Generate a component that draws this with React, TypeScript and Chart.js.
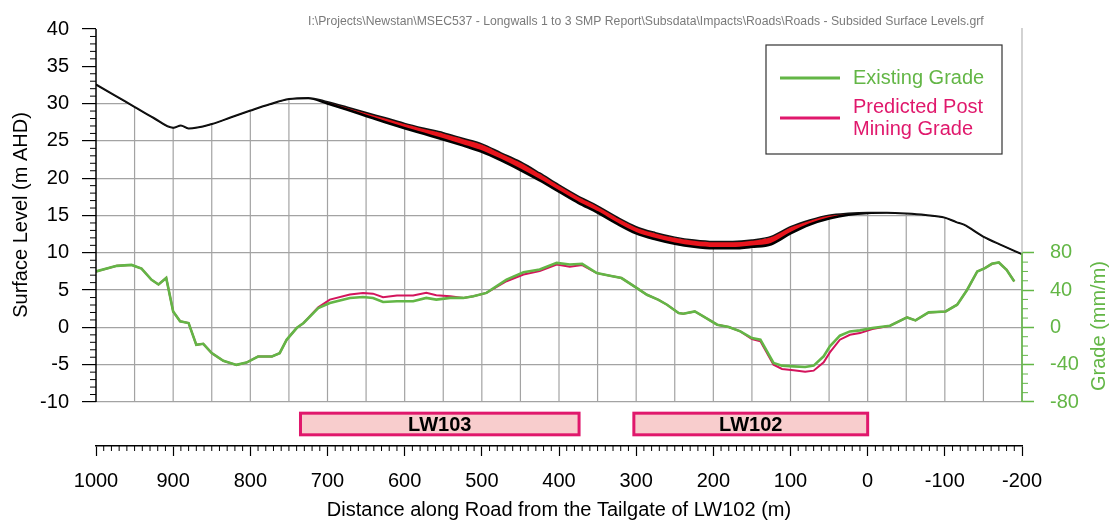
import React, { useEffect, useRef } from 'react';
import { Chart, registerables } from 'chart.js';

Chart.register(...registerables);

const FONT = '"Liberation Sans", Arial, Helvetica, sans-serif';
const GREEN = '#63b646';
const PINK = '#e0186c';
const PINK_LINE = '#d3145c';
const RED_FILL = '#e8141c';
const GRID = '#a3a3a3';

const HEADER_TEXT =
  'I:\\Projects\\Newstan\\MSEC537 - Longwalls 1 to 3 SMP Report\\Subsdata\\Impacts\\Roads\\Roads - Subsided Surface Levels.grf';

// Surface levels (m AHD) along the road
const SURFACE_DIST = [
  1000, 975, 950, 925, 900, 890, 880, 850, 825, 800, 775, 750, 725, 700, 675, 650, 625, 600, 575, 550,
  525, 500, 475, 450, 425, 400, 375, 350, 325, 300, 275, 250, 225, 200, 175, 150, 125, 100, 75, 50,
  25, 0, -25, -50, -75, -100, -115, -125, -150, -175, -200,
];
const EXISTING_SURFACE = [
  32.6, 31.1, 29.6, 28.1, 26.8, 27.1, 26.7, 27.3, 28.2, 29.1, 29.95, 30.65, 30.8, 30.25, 29.55, 28.8, 28.1, 27.35, 26.7, 26.1,
  25.35, 24.6, 23.4, 22.2, 20.7, 19.1, 17.6, 16.3, 14.8, 13.5, 12.7, 12.1, 11.7, 11.5, 11.5, 11.7, 12.2, 13.5, 14.4, 15.05,
  15.3, 15.4, 15.4, 15.3, 15.1, 14.75, 14.15, 13.8, 12.2, 11.0, 9.85,
];
const SUBSIDED_SURFACE = [
  32.6, 31.1, 29.6, 28.1, 26.8, 27.1, 26.7, 27.3, 28.2, 29.1, 29.95, 30.65, 30.75, 30.0, 29.2, 28.35, 27.5, 26.7, 25.95, 25.2,
  24.4, 23.55, 22.4, 21.1, 19.7, 18.2, 16.7, 15.4, 13.9, 12.6, 11.8, 11.2, 10.8, 10.6, 10.6, 10.8, 11.15, 12.6, 13.8, 14.6,
  15.1, 15.35, 15.4, 15.3, 15.1, 14.75, 14.15, 13.8, 12.2, 11.0, 9.85,
];

// Grades (mm/m) along the road
const GRADE_DIST = [
  1000, 973, 954, 941, 928, 919, 909, 900, 891, 880, 870, 861, 850, 835, 818, 805, 790, 772, 762, 753,
  740, 731, 712, 697, 671, 654, 641, 628, 610, 589, 572, 559, 541, 524, 511, 494, 468, 446, 425, 403,
  386, 370, 351, 334, 319, 299, 286, 271, 260, 245, 239, 224, 213, 195, 180, 165, 150, 139, 122, 111,
  96, 81, 70, 57, 49, 36, 23, 10, -6, -29, -51, -62, -79, -101, -116, -129, -142, -152, -161, -170,
  -180, -190,
];
const EXISTING_GRADE = [
  60, 66, 67, 63, 51, 46, 53, 17, 6.5, 4.7, -18.7, -17.6, -27.6, -35.9, -40.2, -37.7, -31.2, -31.2, -27.6, -13.3,
  -0.7, 4.7, 20.8, 26.2, 31.6, 32.6, 31.6, 27.3, 28, 28, 31.6, 29.8, 31.6, 31.6, 33.4, 37, 51.3, 59.2, 62, 69.2,
  67.4, 68.2, 58.2, 55.4, 52.9, 42.1, 35, 29.6, 24.3, 15.4, 14.6, 17.1, 11.8, 2.9, 0.4, -4.3, -11.4, -13.2, -38.2, -41,
  -41.8, -42.5, -41, -31, -20.4, -8.9, -4.3, -3.2, -0.7, 1.8, 10.7, 7.5, 16.1, 17.1, 24.3, 40.4, 60, 63.6, 68.2, 69.6,
  61.8, 49.3,
];
const PREDICTED_GRADE = [
  60, 66, 67, 63, 51, 46, 53, 17, 6.5, 4.7, -18.7, -17.6, -27.6, -35.9, -40.2, -37.7, -31.2, -31.2, -27.6, -13.3,
  -0.7, 4.7, 21.5, 29.8, 35.2, 37, 36.2, 32.3, 34.1, 34.1, 37, 34.4, 33.4, 31.6, 33.4, 37, 49.5, 56.7, 60.3, 67.4,
  65, 66.8, 58.2, 55.4, 52.9, 42.1, 35, 29.6, 24.3, 15.4, 14.6, 17.1, 11.8, 2.9, 0.4, -4.3, -12.5, -15, -40, -44.6,
  -46, -47.5, -46.4, -37.5, -26.8, -13.2, -7.9, -6.1, -1.8, 1.8, 10.7, 7.5, 16.1, 17.1, 24.3, 40.4, 60, 63.6, 68.2, 69.6,
  61.8, 49.3,
];

// Axis ticks
const X_TICKS = [1000, 900, 800, 700, 600, 500, 400, 300, 200, 100, 0, -100, -200];
const LEVEL_TICKS = [-10, -5, 0, 5, 10, 15, 20, 25, 30, 35, 40];
const GRADE_TICKS = [-80, -40, 0, 40, 80];

// Longwall panels
const PANEL_NAMES = ['LW103', 'LW102'];
const PANEL_START = [735, 303];
const PANEL_END = [374, 0];

const LEGEND_LABELS = ['Existing Grade', 'Predicted Post', 'Mining Grade'];

export default function App() {
  const ref = useRef<HTMLCanvasElement>(null);

  useEffect(() => {
    document.body.style.margin = '0';
    const canvas = ref.current as HTMLCanvasElement;
    const toXY = (xs: number[], ys: number[]) => xs.map((x, i) => ({ x, y: ys[i] }));

    const line = (ctx: CanvasRenderingContext2D, x1: number, y1: number, x2: number, y2: number) => {
      ctx.beginPath();
      ctx.moveTo(x1, y1);
      ctx.lineTo(x2, y2);
      ctx.stroke();
    };

    const decor = {
      id: 'decor',
      beforeDatasetsDraw(chart: any) {
        const { ctx, scales } = chart;
        const xs = scales.x;
        const ys = scales.y;
        const top = ys.getPixelForValue(40);
        const bot = ys.getPixelForValue(-10);
        ctx.save();
        ctx.strokeStyle = GRID;
        ctx.lineWidth = 1.2;
        for (let d = -150; d < 1000; d += 50) {
          const px = xs.getPixelForValue(d);
          line(ctx, px, top, px, bot);
        }
        ctx.restore();
      },
      afterDatasetsDraw(chart: any) {
        const { ctx, scales } = chart;
        const xs = scales.x;
        const ys = scales.y;
        const g = scales.y2;
        const left = xs.getPixelForValue(1000);
        const right = xs.getPixelForValue(-200);
        const top = ys.getPixelForValue(40);
        const bot = ys.getPixelForValue(-10);
        ctx.save();
        // right axis line (gray full, green on grade range)
        ctx.strokeStyle = '#b5b5b5';
        ctx.lineWidth = 1.2;
        line(ctx, right, top - 1, right, bot);
        ctx.strokeStyle = GREEN;
        ctx.lineWidth = 1.6;
        line(ctx, right, g.getPixelForValue(80), right, g.getPixelForValue(-80));
        // left axis line
        ctx.strokeStyle = '#000';
        ctx.lineWidth = 1.5;
        line(ctx, left, top, left, bot);
        // minor ticks left
        ctx.lineWidth = 1;
        for (let v = -10; v <= 40; v += 1) {
          if (v % 5 === 0) continue;
          const py = ys.getPixelForValue(v);
          line(ctx, left - 6, py, left, py);
        }
        // minor ticks right
        ctx.strokeStyle = GREEN;
        for (let v = -80; v <= 80; v += 10) {
          if (v % 40 === 0) continue;
          const py = g.getPixelForValue(v);
          line(ctx, right, py, right + 6, py);
        }
        // minor ticks bottom
        ctx.strokeStyle = '#000';
        const axisY = chart.chartArea.bottom;
        for (let d = -200; d <= 1000; d += 10) {
          if (d % 100 === 0) continue;
          const px = xs.getPixelForValue(d);
          line(ctx, px, axisY, px, axisY + 5);
        }
        // panels
        const pTop = ys.getPixelForValue(-11.5);
        const pBot = ys.getPixelForValue(-14.4);
        PANEL_NAMES.forEach((name, i) => {
          const x1 = xs.getPixelForValue(PANEL_START[i]);
          const x2 = xs.getPixelForValue(PANEL_END[i]);
          ctx.fillStyle = '#f8cdcd';
          ctx.fillRect(x1, pTop, x2 - x1, pBot - pTop);
          ctx.strokeStyle = PINK;
          ctx.lineWidth = 3;
          ctx.strokeRect(x1, pTop, x2 - x1, pBot - pTop);
          ctx.fillStyle = '#000';
          ctx.font = `bold 20px ${FONT}`;
          ctx.textAlign = 'center';
          ctx.textBaseline = 'middle';
          ctx.fillText(name, (x1 + x2) / 2, (pTop + pBot) / 2 + 1);
        });
        ctx.restore();
      },
      afterDraw(chart: any) {
        const { ctx, chartArea } = chart;
        ctx.save();
        // axis titles
        ctx.font = `20px ${FONT}`;
        ctx.textAlign = 'center';
        ctx.textBaseline = 'middle';
        ctx.fillStyle = '#000';
        ctx.fillText('Distance along Road from the Tailgate of LW102 (m)', (chartArea.left + chartArea.right) / 2, 510);
        ctx.save();
        ctx.translate(21, 215);
        ctx.rotate(-Math.PI / 2);
        ctx.fillText('Surface Level (m AHD)', 0, 0);
        ctx.restore();
        ctx.save();
        ctx.translate(1099, 326);
        ctx.rotate(-Math.PI / 2);
        ctx.fillStyle = GREEN;
        ctx.fillText('Grade (mm/m)', 0, 0);
        ctx.restore();
        // header
        ctx.font = `11px ${FONT}`;
        const w = ctx.measureText(HEADER_TEXT).width;
        const size = (11 * 676) / w;
        ctx.font = `${size.toFixed(2)}px ${FONT}`;
        ctx.fillStyle = '#7a7a7a';
        ctx.textAlign = 'left';
        ctx.fillText(HEADER_TEXT, 308, 22);
        // legend
        ctx.fillStyle = '#fff';
        ctx.fillRect(766, 45, 236, 109);
        ctx.strokeStyle = '#333';
        ctx.lineWidth = 1.2;
        ctx.strokeRect(766, 45, 236, 109);
        ctx.lineWidth = 3;
        ctx.strokeStyle = GREEN;
        line(ctx, 780, 78, 840, 78);
        ctx.strokeStyle = PINK;
        line(ctx, 780, 118, 840, 118);
        ctx.font = `20px ${FONT}`;
        ctx.fillStyle = GREEN;
        ctx.fillText(LEGEND_LABELS[0], 853, 78);
        ctx.fillStyle = PINK;
        ctx.fillText(LEGEND_LABELS[1], 853, 107);
        ctx.fillText(LEGEND_LABELS[2], 853, 129);
        ctx.restore();
      },
    };

    const chart = new Chart(canvas, {
      type: 'line',
      data: {
        datasets: [
          {
            label: 'Existing Surface',
            data: toXY(SURFACE_DIST, EXISTING_SURFACE),
            yAxisID: 'y',
            borderColor: '#111',
            borderWidth: 1.5,
            pointRadius: 0,
            fill: 'end',
            backgroundColor: '#ffffff',
            cubicInterpolationMode: 'monotone',
          },
          {
            label: 'Subsided Surface',
            data: toXY(SURFACE_DIST, SUBSIDED_SURFACE),
            yAxisID: 'y',
            borderColor: '#000',
            borderWidth: 2.6,
            pointRadius: 0,
            fill: '-1',
            backgroundColor: RED_FILL,
            cubicInterpolationMode: 'monotone',
          },
          {
            label: 'Existing Grade',
            data: toXY(GRADE_DIST, EXISTING_GRADE),
            yAxisID: 'y2',
            borderColor: GREEN,
            borderWidth: 2.6,
            pointRadius: 0,
            fill: false,
          },
          {
            label: 'Predicted Post Mining Grade',
            data: toXY(GRADE_DIST, PREDICTED_GRADE),
            yAxisID: 'y2',
            borderColor: PINK_LINE,
            borderWidth: 2,
            pointRadius: 0,
            fill: false,
          },
        ],
      },
      options: {
        responsive: false,
        animation: false,
        layout: { padding: { top: 29, left: 0, right: 0, bottom: 0 } },
        plugins: {
          legend: { display: false },
          tooltip: { enabled: false },
          title: { display: false },
        },
        scales: {
          x: {
            type: 'linear',
            reverse: true,
            min: -200,
            max: 1000,
            afterBuildTicks: (s: any) => {
              s.ticks = X_TICKS.map((v) => ({ value: v }));
            },
            afterFit: (s: any) => {
              s.height = 78;
            },
            grid: { drawOnChartArea: false, drawTicks: true, tickLength: 10, tickColor: '#000', tickWidth: 1.2 },
            border: { display: true, color: '#000', width: 1.5 },
            ticks: {
              color: '#000',
              font: { size: 20, family: FONT },
              padding: 13,
              maxRotation: 0,
              autoSkip: false,
              callback: (v: any) => String(v),
            },
          },
          y: {
            position: 'left',
            min: -15.9,
            max: 40,
            afterBuildTicks: (s: any) => {
              s.ticks = LEVEL_TICKS.map((v) => ({ value: v }));
            },
            afterFit: (s: any) => {
              s.width = 96;
            },
            grid: {
              color: (c: any) => (c.tick && c.tick.value > 30 ? 'rgba(0,0,0,0)' : GRID),
              lineWidth: 1.2,
              drawTicks: true,
              tickLength: 14,
              tickColor: '#000',
              tickWidth: 1.2,
            },
            border: { display: false },
            ticks: {
              color: '#000',
              font: { size: 20, family: FONT },
              padding: 13,
              callback: (v: any) => String(v),
            },
          },
          y2: {
            position: 'right',
            min: -127.2,
            max: 320,
            afterBuildTicks: (s: any) => {
              s.ticks = GRADE_TICKS.map((v) => ({ value: v }));
            },
            afterFit: (s: any) => {
              s.width = 91;
            },
            grid: { drawOnChartArea: false, drawTicks: true, tickLength: 12, tickColor: GREEN, tickWidth: 1.5 },
            border: { display: false },
            ticks: {
              color: GREEN,
              font: { size: 20, family: FONT },
              padding: 16,
              callback: (v: any) => String(v),
            },
          },
        },
      } as any,
      plugins: [decor],
    });

    return () => chart.destroy();
  }, []);

  return (
    <div style={{ width: 1113, height: 524, position: 'relative', background: '#fff' }}>
      <canvas ref={ref} width={1113} height={524} style={{ display: 'block' }} />
    </div>
  );
}
